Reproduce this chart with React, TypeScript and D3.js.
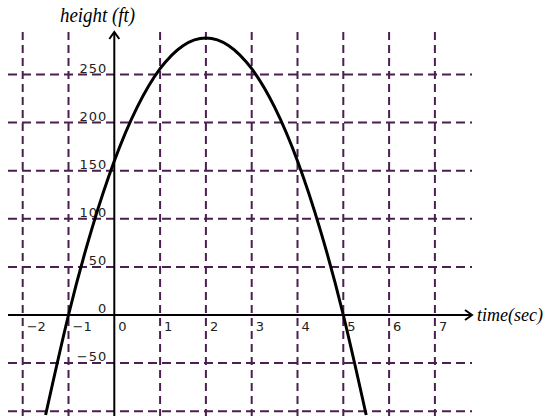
import React from 'react';
import * as d3 from 'd3';

// time (sec) and height (ft)
const times = [-1.5, -1, -0.5, 0, 0.5, 1, 1.5, 2, 2.5, 3, 3.5, 4, 4.5, 5, 5.5];
const heights = [-104, 0, 88, 160, 216, 256, 280, 288, 280, 256, 216, 160, 88, 0, -104];

const xTicks = [-2, -1, 0, 1, 2, 3, 4, 5, 6, 7];
const yTicks = [-50, 0, 50, 100, 150, 200, 250];
const yGrid = [-100, -50, 50, 100, 150, 200, 250];
const xGrid = [-2, -1, 1, 2, 3, 4, 5, 6, 7];

const W = 546;
const H = 416;
const GRID = '#4b1f4f';

function App() {
  const x = d3.scaleLinear().domain([0, 5]).range([114.3, 343.3]);
  const y = d3.scaleLinear().domain([0, 250]).range([315, 74.5]);

  const line = d3.line<number>()
    .x((d, i) => x(times[i]))
    .y(d => y(d))
    .curve(d3.curveNatural);

  const axisX0 = 8;
  const axisX1 = 472;
  const axisTop = 32;

  return (
    <svg width={W} height={H} style={{ position: 'absolute', left: 0, top: 0 }}>
      <defs>
        <clipPath id="clip">
          <rect x={0} y={0} width={W} height={H} />
        </clipPath>
      </defs>

      {/* grid */}
      {xGrid.map(t => (
        <line key={'gx' + t} x1={x(t)} x2={x(t)} y1={axisTop} y2={H}
          stroke={GRID} strokeWidth={2} strokeDasharray="8,5" />
      ))}
      {yGrid.map(v => (
        <line key={'gy' + v} x1={axisX0} x2={axisX1} y1={y(v)} y2={y(v)}
          stroke={GRID} strokeWidth={2} strokeDasharray="9,5" />
      ))}

      {/* axes */}
      <line x1={axisX0} x2={axisX1} y1={y(0)} y2={y(0)} stroke="#000" strokeWidth={2} />
      <polyline points={`${axisX1 - 7},${y(0) - 5} ${axisX1},${y(0)} ${axisX1 - 7},${y(0) + 5}`}
        fill="none" stroke="#000" strokeWidth={2} />
      <line x1={x(0)} x2={x(0)} y1={axisTop} y2={H} stroke="#000" strokeWidth={2} />
      <polyline points={`${x(0) - 5},${axisTop + 7} ${x(0)},${axisTop} ${x(0) + 5},${axisTop + 7}`}
        fill="none" stroke="#000" strokeWidth={2} />

      {/* tick labels */}
      {xTicks.map(t => (
        <text key={'tx' + t} x={x(t) + 4} y={y(0) + 16} fontFamily="DejaVu Sans" fontSize={13}
          fill="#222">{t < 0 ? '\u2212' + Math.abs(t) : t}</text>
      ))}
      {yTicks.map(v => (
        <text key={'ty' + v} x={x(0) - 7} y={y(v) - 2} textAnchor="end" fontFamily="DejaVu Sans"
          fontSize={13} fill="#222" letterSpacing={1}>{v < 0 ? '\u2212' + Math.abs(v) : v}</text>
      ))}

      {/* curve */}
      <path d={line(heights) || ''} fill="none" stroke="#000" strokeWidth={3} clipPath="url(#clip)" />

      {/* axis titles */}
      <text x={60} y={22} fontFamily="Liberation Serif" fontStyle="italic" fontSize={20} fill="#000"
        textLength={75} lengthAdjust="spacingAndGlyphs">height (ft)</text>
      <text x={477} y={321} fontFamily="Liberation Serif" fontStyle="italic" fontSize={19} fill="#000"
        textLength={66} lengthAdjust="spacingAndGlyphs">time(sec)</text>
    </svg>
  );
}

export default App;
